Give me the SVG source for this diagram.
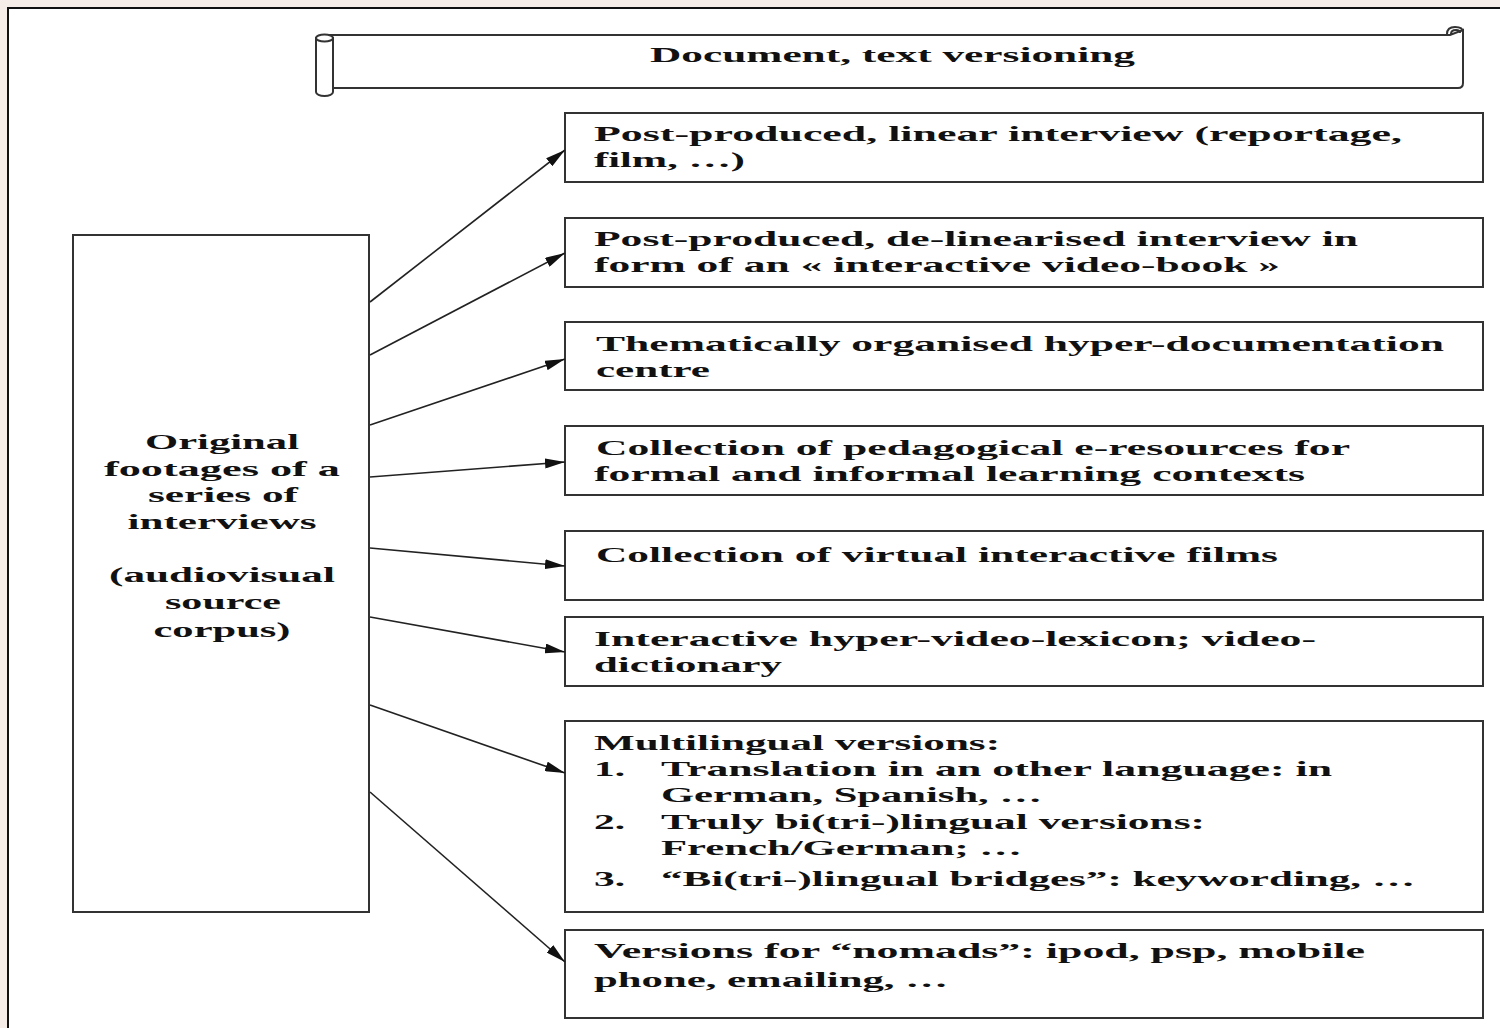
<svg xmlns="http://www.w3.org/2000/svg" width="1500" height="1028" viewBox="0 0 1500 1028">
<defs>
<style>
.box{fill:#fff;stroke:#333;stroke-width:2}
.ln{fill:none;stroke:#222;stroke-width:1.6}
.t{font-family:"Liberation Serif","Times New Roman",serif;font-weight:bold;font-size:22px;fill:#111}
.c{text-anchor:middle}
.sc{fill:#fff;stroke:#333;stroke-width:2}
</style>
<marker id="ah" viewBox="0 0 20 10" refX="20" refY="5" markerWidth="20" markerHeight="10" markerUnits="userSpaceOnUse" orient="auto">
<path d="M0 0 L20 5 L0 10 Z" fill="#111"/>
</marker>
</defs>
<rect x="0" y="0" width="1500" height="1028" fill="#f7ede8"/>
<rect x="8" y="8" width="1510" height="1040" fill="#fff" stroke="#111" stroke-width="2"/>

<g id="banner">
<path class="sc" d="M325 35 H1450 L1463 30 V83 Q1463 88 1458 88 H333 Z"/>
<path d="M1447 34 Q1447 27 1455 27 Q1463 27 1463 32 M1451 34 Q1451 30 1456 30 Q1460 30 1460 33" fill="none" stroke="#333" stroke-width="2"/>
<path class="sc" d="M316 38 V92 A8.5 4 0 0 0 333 92 V38 Z"/>
<ellipse cx="324.5" cy="38" rx="8.5" ry="3.5" fill="#fff" stroke="#333" stroke-width="2"/>
<text class="t" x="650" y="62" textLength="485" lengthAdjust="spacingAndGlyphs">Document, text versioning</text>
</g>

<g id="source">
<rect class="box" x="73" y="235" width="296" height="677"/>
<text class="t c" x="222" y="449" textLength="154" lengthAdjust="spacingAndGlyphs">Original</text>
<text class="t c" x="222" y="476" textLength="236" lengthAdjust="spacingAndGlyphs">footages of a</text>
<text class="t c" x="223" y="502" textLength="150" lengthAdjust="spacingAndGlyphs">series of</text>
<text class="t c" x="222" y="529" textLength="189" lengthAdjust="spacingAndGlyphs">interviews</text>
<text class="t c" x="222" y="582" textLength="226" lengthAdjust="spacingAndGlyphs">(audiovisual</text>
<text class="t c" x="223" y="609" textLength="116" lengthAdjust="spacingAndGlyphs">source</text>
<text class="t c" x="222" y="637" textLength="137" lengthAdjust="spacingAndGlyphs">corpus)</text>
</g>

<g id="n1">
<rect class="box" x="565" y="113" width="918" height="69"/>
<text class="t" x="594" y="141" textLength="808" lengthAdjust="spacingAndGlyphs">Post-produced, linear interview (reportage,</text>
<text class="t" x="594" y="167" textLength="151" lengthAdjust="spacingAndGlyphs">film, …)</text>
</g>
<g id="n2">
<rect class="box" x="565" y="218" width="918" height="69"/>
<text class="t" x="594" y="246" textLength="764" lengthAdjust="spacingAndGlyphs">Post-produced, de-linearised interview in</text>
<text class="t" x="594" y="272" textLength="686" lengthAdjust="spacingAndGlyphs">form of an « interactive video-book »</text>
</g>
<g id="n3">
<rect class="box" x="565" y="322" width="918" height="68"/>
<text class="t" x="596" y="351" textLength="848" lengthAdjust="spacingAndGlyphs">Thematically organised hyper-documentation</text>
<text class="t" x="596" y="377" textLength="114" lengthAdjust="spacingAndGlyphs">centre</text>
</g>
<g id="n4">
<rect class="box" x="565" y="426" width="918" height="69"/>
<text class="t" x="596" y="455" textLength="754" lengthAdjust="spacingAndGlyphs">Collection of pedagogical e-resources for</text>
<text class="t" x="594" y="481" textLength="711" lengthAdjust="spacingAndGlyphs">formal and informal learning contexts</text>
</g>
<g id="n5">
<rect class="box" x="565" y="531" width="918" height="69"/>
<text class="t" x="596" y="562" textLength="682" lengthAdjust="spacingAndGlyphs">Collection of virtual interactive films</text>
</g>
<g id="n6">
<rect class="box" x="565" y="617" width="918" height="69"/>
<text class="t" x="594" y="646" textLength="722" lengthAdjust="spacingAndGlyphs">Interactive hyper-video-lexicon; video-</text>
<text class="t" x="594" y="672" textLength="188" lengthAdjust="spacingAndGlyphs">dictionary</text>
</g>
<g id="n7">
<rect class="box" x="565" y="721" width="918" height="191"/>
<text class="t" x="594" y="750" textLength="406" lengthAdjust="spacingAndGlyphs">Multilingual versions:</text>
<text class="t" x="594" y="776" textLength="31" lengthAdjust="spacingAndGlyphs">1.</text>
<text class="t" x="661" y="776" textLength="671" lengthAdjust="spacingAndGlyphs">Translation in an other language: in</text>
<text class="t" x="661" y="802" textLength="381" lengthAdjust="spacingAndGlyphs">German, Spanish, …</text>
<text class="t" x="594" y="829" textLength="31" lengthAdjust="spacingAndGlyphs">2.</text>
<text class="t" x="661" y="829" textLength="544" lengthAdjust="spacingAndGlyphs">Truly bi(tri-)lingual versions:</text>
<text class="t" x="661" y="855" textLength="361" lengthAdjust="spacingAndGlyphs">French/German; …</text>
<text class="t" x="594" y="886" textLength="31" lengthAdjust="spacingAndGlyphs">3.</text>
<text class="t" x="661" y="886" textLength="754" lengthAdjust="spacingAndGlyphs">“Bi(tri-)lingual bridges”: keywording, …</text>
</g>
<g id="n8">
<rect class="box" x="565" y="930" width="918" height="88"/>
<text class="t" x="594" y="958" textLength="771" lengthAdjust="spacingAndGlyphs">Versions for “nomads”: ipod, psp, mobile</text>
<text class="t" x="594" y="987" textLength="354" lengthAdjust="spacingAndGlyphs">phone, emailing, …</text>
</g>

<g id="connectors">
<line class="ln" x1="370" y1="302" x2="565" y2="150" marker-end="url(#ah)"/>
<line class="ln" x1="370" y1="355" x2="565" y2="253" marker-end="url(#ah)"/>
<line class="ln" x1="370" y1="425" x2="565" y2="359" marker-end="url(#ah)"/>
<line class="ln" x1="370" y1="477" x2="565" y2="462" marker-end="url(#ah)"/>
<line class="ln" x1="370" y1="548" x2="565" y2="566" marker-end="url(#ah)"/>
<line class="ln" x1="370" y1="617" x2="565" y2="652" marker-end="url(#ah)"/>
<line class="ln" x1="370" y1="705" x2="565" y2="773" marker-end="url(#ah)"/>
<line class="ln" x1="370" y1="792" x2="565" y2="962" marker-end="url(#ah)"/>
</g>
</svg>
